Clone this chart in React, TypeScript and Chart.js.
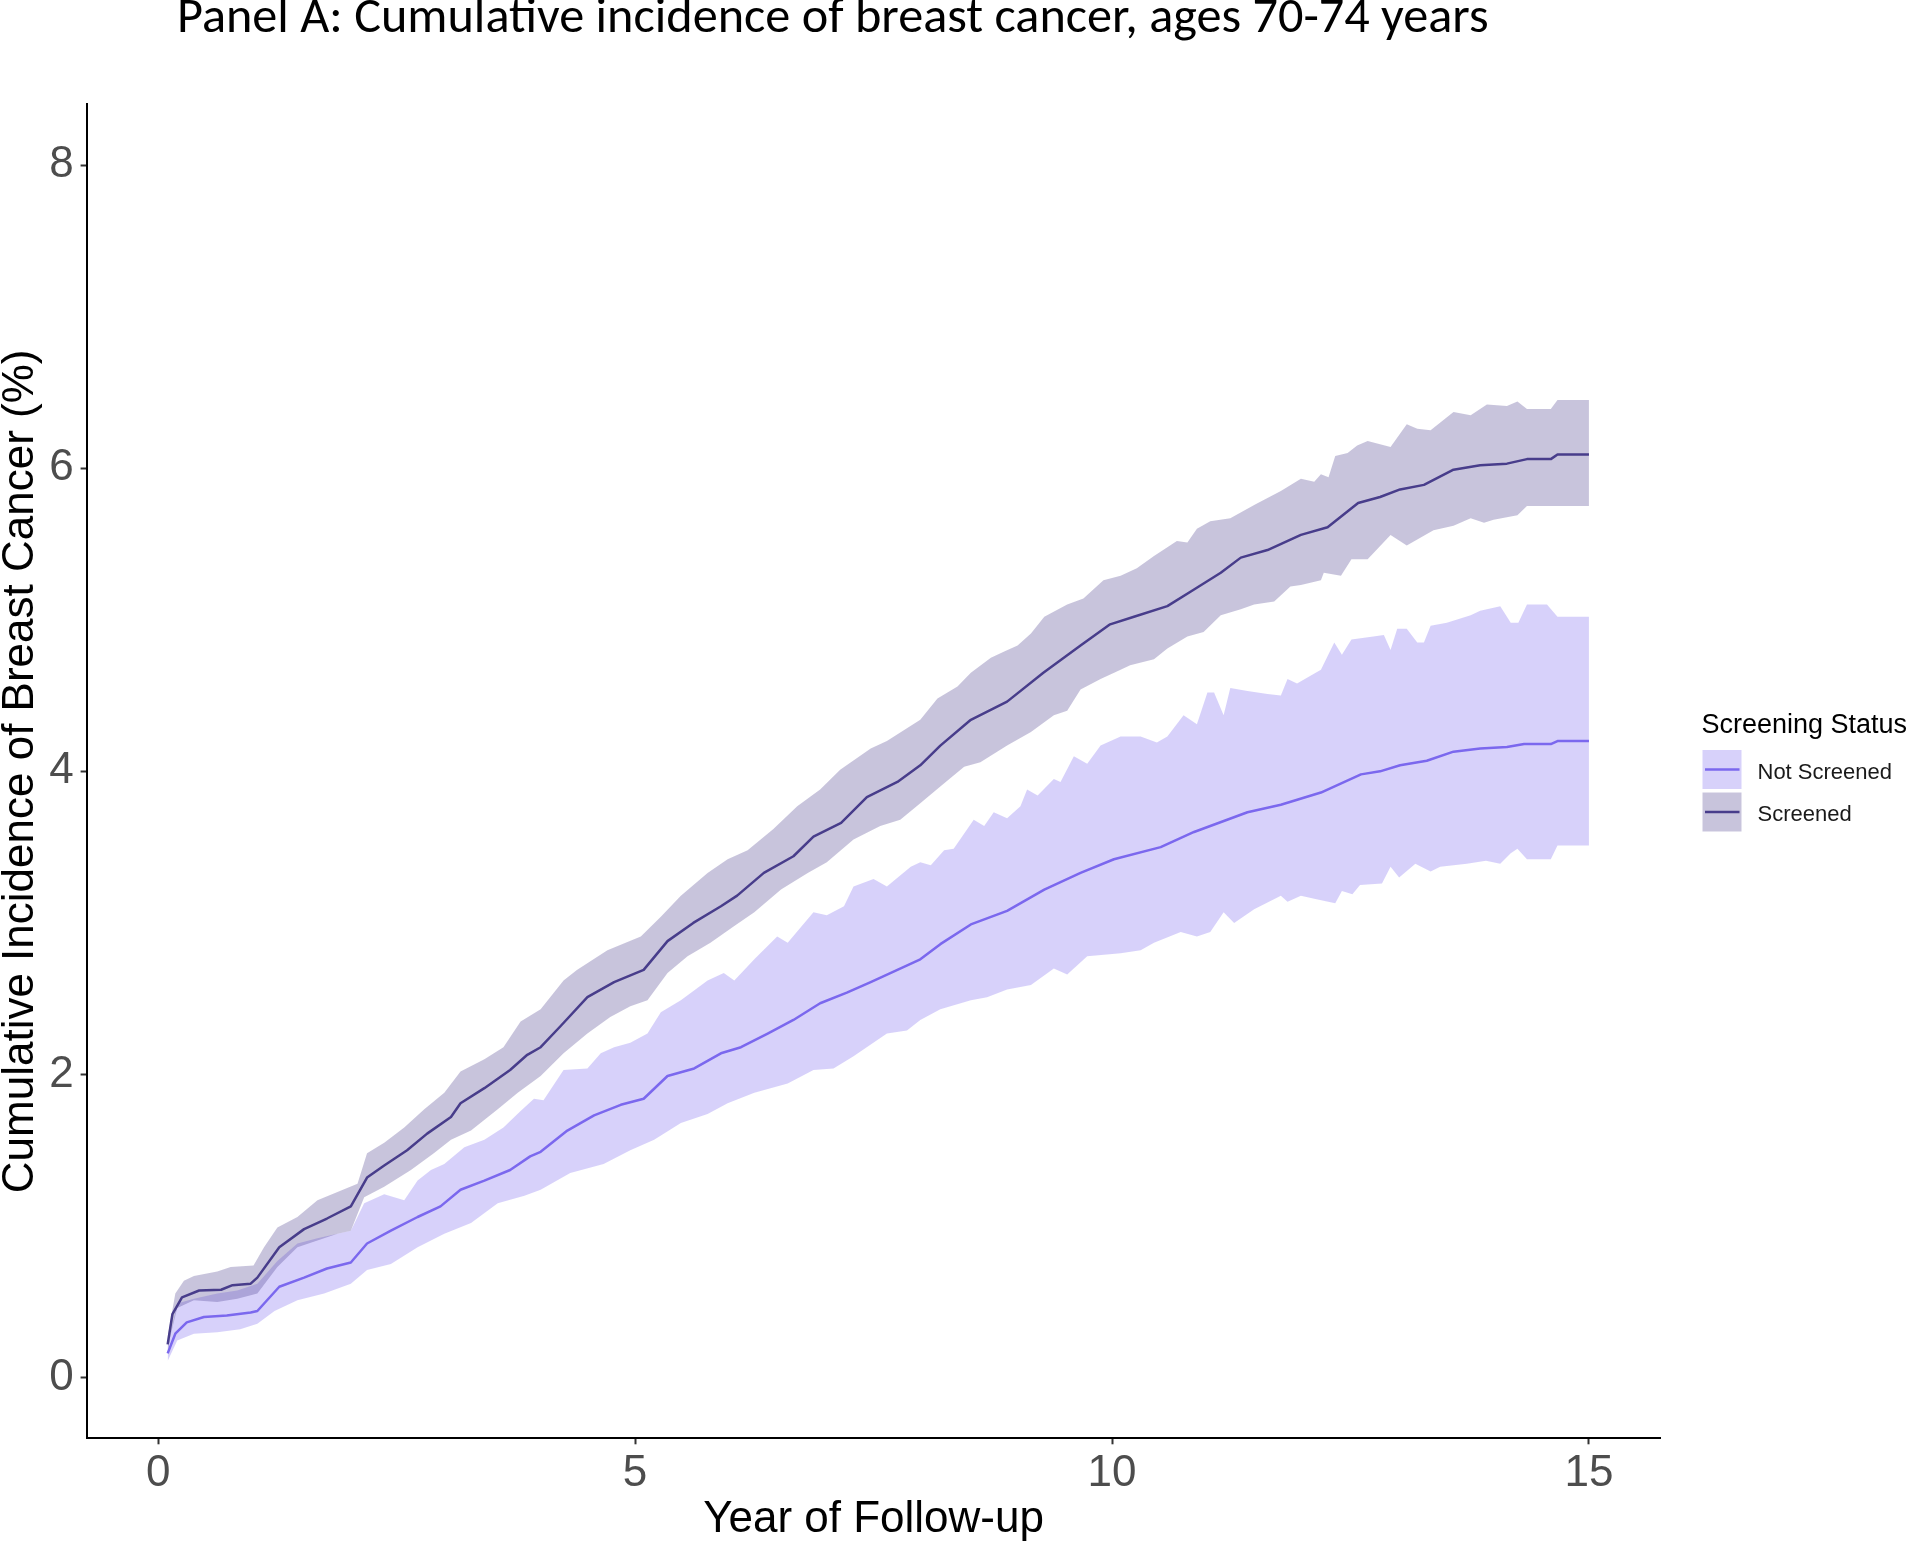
import React, { useEffect, useRef } from "react";
import { Chart, registerables } from "chart.js";

Chart.register(...registerables);

const chartTitle = "Panel A: Cumulative incidence of breast cancer, ages 70-74 years";
const xAxisTitle = "Year of Follow-up";
const yAxisTitle = "Cumulative Incidence of Breast Cancer (%)";
const legendTitle = "Screening Status";
const seriesNames = ["Not Screened", "Screened"];
const xTicks = [0, 5, 10, 15];
const yTicks = [0, 2, 4, 6, 8];

// [year, cumulative incidence %]
const screenedEstimate: [number, number][] = [
  [0.10,0.22],[0.15,0.42],[0.25,0.53],[0.43,0.575],[0.66,0.58],[0.78,0.61],[0.97,0.62],[1.04,0.66],[1.27,0.86],[1.53,0.98],
  [1.77,1.05],[2.02,1.13],[2.19,1.32],[2.37,1.40],[2.61,1.50],[2.82,1.61],[3.07,1.72],[3.17,1.81],[3.42,1.91],[3.69,2.03],
  [3.87,2.13],[4.01,2.18],[4.22,2.32],[4.50,2.51],[4.78,2.61],[5.09,2.69],[5.34,2.88],[5.61,3.00],[5.90,3.11],[6.07,3.18],
  [6.35,3.33],[6.66,3.44],[6.87,3.57],[7.16,3.66],[7.43,3.83],[7.75,3.93],[7.99,4.04],[8.20,4.17],[8.52,4.34],[8.90,4.46],
  [9.28,4.65],[9.67,4.83],[9.98,4.97],[10.23,5.02],[10.58,5.09],[10.86,5.20],[11.14,5.31],[11.35,5.41],[11.63,5.46],[11.98,5.56],
  [12.26,5.61],[12.58,5.77],[12.81,5.81],[13.02,5.86],[13.27,5.89],[13.58,5.99],[13.86,6.02],[14.14,6.03],[14.35,6.06],[14.60,6.06],
  [14.67,6.09],[15.00,6.09],
];

const screenedUpper: [number, number][] = [
  [0.10,0.27],[0.18,0.555],[0.27,0.64],[0.375,0.67],[0.62,0.70],[0.76,0.73],[1.00,0.74],[1.11,0.86],[1.25,0.99],[1.46,1.06],
  [1.67,1.17],[1.88,1.225],[2.09,1.28],[2.19,1.48],[2.37,1.55],[2.58,1.65],[2.79,1.77],[3.00,1.88],[3.17,2.02],[3.42,2.10],
  [3.62,2.18],[3.80,2.35],[4.01,2.43],[4.25,2.62],[4.39,2.69],[4.71,2.82],[5.06,2.91],[5.27,3.04],[5.48,3.18],[5.76,3.33],
  [5.97,3.42],[6.18,3.48],[6.45,3.62],[6.70,3.77],[6.94,3.88],[7.15,4.01],[7.47,4.15],[7.64,4.20],[7.99,4.34],[8.17,4.48],
  [8.38,4.56],[8.52,4.65],[8.73,4.75],[8.87,4.79],[9.01,4.83],[9.15,4.91],[9.29,5.02],[9.53,5.10],[9.70,5.14],[9.91,5.26],
  [10.09,5.29],[10.26,5.34],[10.44,5.42],[10.68,5.52],[10.79,5.51],[10.89,5.60],[11.03,5.65],[11.24,5.67],[11.50,5.76],[11.77,5.85],
  [11.98,5.93],[12.12,5.91],[12.19,5.96],[12.27,5.94],[12.34,6.08],[12.47,6.10],[12.57,6.15],[12.68,6.18],[12.92,6.14],[13.09,6.29],
  [13.20,6.26],[13.34,6.25],[13.58,6.37],[13.76,6.35],[13.93,6.42],[14.14,6.41],[14.25,6.44],[14.35,6.39],[14.60,6.39],[14.67,6.45],
  [15.00,6.45],
];

const screenedLower: [number, number][] = [
  [0.10,0.17],[0.13,0.28],[0.20,0.46],[0.375,0.51],[0.62,0.50],[0.83,0.52],[1.04,0.555],[1.25,0.73],[1.46,0.86],[1.67,0.905],
  [1.88,0.95],[2.02,0.97],[2.16,1.19],[2.37,1.26],[2.65,1.37],[2.89,1.48],[3.07,1.57],[3.28,1.63],[3.56,1.77],[3.77,1.88],
  [4.01,1.99],[4.25,2.14],[4.50,2.27],[4.74,2.38],[4.95,2.45],[5.13,2.49],[5.34,2.67],[5.55,2.78],[5.79,2.87],[6.04,2.98],
  [6.25,3.07],[6.53,3.22],[6.81,3.33],[7.01,3.40],[7.29,3.55],[7.57,3.64],[7.78,3.68],[7.99,3.79],[8.20,3.90],[8.45,4.03],
  [8.62,4.06],[8.90,4.17],[9.15,4.26],[9.39,4.37],[9.53,4.40],[9.67,4.54],[9.88,4.61],[10.09,4.67],[10.19,4.70],[10.44,4.74],
  [10.58,4.81],[10.79,4.89],[10.96,4.92],[11.14,5.03],[11.35,5.07],[11.49,5.10],[11.70,5.12],[11.87,5.22],[11.98,5.23],[12.19,5.26],
  [12.22,5.31],[12.40,5.29],[12.51,5.40],[12.68,5.40],[12.92,5.56],[13.09,5.49],[13.20,5.53],[13.37,5.59],[13.58,5.62],[13.76,5.67],
  [13.90,5.64],[14.00,5.66],[14.25,5.69],[14.35,5.75],[15.00,5.75],
];

const notScreenedEstimate: [number, number][] = [
  [0.10,0.16],[0.18,0.29],[0.30,0.365],[0.48,0.40],[0.72,0.41],[0.97,0.43],[1.04,0.44],[1.27,0.60],[1.53,0.66],[1.77,0.72],
  [2.02,0.76],[2.19,0.885],[2.44,0.97],[2.72,1.06],[2.96,1.13],[3.17,1.24],[3.42,1.30],[3.69,1.37],[3.90,1.46],[4.01,1.49],
  [4.29,1.63],[4.57,1.73],[4.85,1.80],[5.09,1.84],[5.34,1.99],[5.62,2.04],[5.90,2.14],[6.11,2.18],[6.39,2.27],[6.66,2.36],
  [6.94,2.47],[7.22,2.54],[7.47,2.61],[7.75,2.69],[7.99,2.76],[8.20,2.86],[8.52,2.99],[8.90,3.08],[9.29,3.22],[9.67,3.33],
  [10.02,3.42],[10.51,3.50],[10.86,3.60],[11.42,3.73],[11.77,3.78],[12.19,3.86],[12.61,3.98],[12.81,4.00],[13.02,4.04],[13.30,4.07],
  [13.58,4.13],[13.86,4.15],[14.14,4.16],[14.32,4.18],[14.60,4.18],[14.67,4.20],[15.00,4.20],
];

const notScreenedUpper: [number, number][] = [
  [0.10,0.20],[0.20,0.49],[0.375,0.52],[0.62,0.555],[0.83,0.575],[1.04,0.62],[1.25,0.77],[1.46,0.885],[1.67,0.92],[1.88,0.95],
  [2.02,0.97],[2.16,1.15],[2.37,1.21],[2.58,1.17],[2.72,1.30],[2.86,1.37],[3.00,1.41],[3.21,1.52],[3.42,1.57],[3.62,1.65],
  [3.80,1.76],[3.94,1.84],[4.04,1.83],[4.25,2.03],[4.50,2.04],[4.64,2.14],[4.78,2.18],[4.95,2.21],[5.13,2.27],[5.27,2.41],
  [5.48,2.49],[5.76,2.62],[5.93,2.67],[6.04,2.62],[6.25,2.76],[6.49,2.91],[6.60,2.87],[6.87,3.07],[7.01,3.05],[7.19,3.11],
  [7.29,3.24],[7.50,3.29],[7.64,3.24],[7.89,3.37],[7.99,3.40],[8.10,3.38],[8.24,3.48],[8.34,3.49],[8.55,3.68],[8.66,3.64],
  [8.76,3.73],[8.90,3.69],[9.04,3.77],[9.11,3.88],[9.22,3.84],[9.39,3.95],[9.46,3.93],[9.60,4.10],[9.74,4.05],[9.88,4.17],
  [10.09,4.23],[10.30,4.23],[10.47,4.19],[10.58,4.23],[10.75,4.37],[10.89,4.31],[11.00,4.52],[11.07,4.52],[11.17,4.37],[11.24,4.55],
  [11.42,4.53],[11.63,4.51],[11.77,4.50],[11.84,4.61],[11.94,4.58],[12.19,4.67],[12.33,4.85],[12.41,4.77],[12.51,4.87],[12.74,4.89],
  [12.85,4.90],[12.92,4.80],[12.99,4.94],[13.09,4.94],[13.20,4.85],[13.27,4.85],[13.34,4.96],[13.51,4.98],[13.76,5.03],[13.86,5.06],
  [14.07,5.09],[14.18,4.98],[14.26,4.98],[14.35,5.10],[14.56,5.10],[14.67,5.02],[15.00,5.02],
];

const notScreenedLower: [number, number][] = [
  [0.10,0.11],[0.20,0.245],[0.375,0.29],[0.62,0.30],[0.86,0.32],[1.04,0.355],[1.22,0.44],[1.46,0.51],[1.74,0.555],[2.02,0.62],
  [2.19,0.71],[2.44,0.75],[2.72,0.86],[3.00,0.95],[3.28,1.02],[3.56,1.15],[3.84,1.20],[4.01,1.24],[4.32,1.35],[4.67,1.41],
  [4.95,1.50],[5.20,1.57],[5.48,1.68],[5.76,1.74],[5.97,1.81],[6.25,1.88],[6.60,1.94],[6.87,2.03],[7.08,2.04],[7.29,2.12],
  [7.64,2.27],[7.85,2.29],[7.99,2.36],[8.20,2.43],[8.52,2.49],[8.69,2.51],[8.90,2.56],[9.15,2.59],[9.39,2.70],[9.53,2.66],
  [9.74,2.78],[10.09,2.80],[10.30,2.82],[10.44,2.87],[10.72,2.94],[10.89,2.91],[11.03,2.94],[11.17,3.07],[11.28,3.00],[11.49,3.09],
  [11.77,3.18],[11.84,3.14],[11.98,3.18],[12.12,3.16],[12.34,3.13],[12.41,3.21],[12.52,3.19],[12.60,3.25],[12.83,3.26],[12.92,3.37],
  [13.01,3.30],[13.18,3.39],[13.34,3.34],[13.44,3.37],[13.72,3.39],[13.92,3.41],[14.07,3.39],[14.18,3.46],[14.25,3.49],[14.35,3.42],
  [14.60,3.42],[14.67,3.51],[15.00,3.51],
];

const NS_LINE = "#7B68EE";
const S_LINE = "#483D8B";
const NS_FILL = "rgba(123,104,238,0.3)";
const S_FILL = "rgba(72,61,139,0.3)";
const ARIAL = '"Liberation Sans", Arial, Helvetica, sans-serif';

const W = 1911;
const H = 1541;

const toPts = (arr: [number, number][]) => arr.map(([x, y]) => ({ x, y }));

const overlayPlugin = {
  id: "overlayText",
  afterDraw(chart: any) {
    const ctx: CanvasRenderingContext2D = chart.ctx;
    const a = chart.chartArea;
    ctx.save();

    // Main title
    const titleFamily = 'Carlito, Lato, "Open Sans", sans-serif';
    ctx.font = `100px ${titleFamily}`;
    const w100 = ctx.measureText(chartTitle).width;
    const tfs = (100 * 1312) / w100;
    ctx.font = `${tfs}px ${titleFamily}`;
    ctx.fillStyle = "#000";
    ctx.textAlign = "left";
    ctx.textBaseline = "alphabetic";
    ctx.fillText(chartTitle, 177, 32);

    // X axis title
    ctx.font = `44px ${ARIAL}`;
    ctx.textAlign = "center";
    ctx.fillText(xAxisTitle, (a.left + a.right) / 2, 1531.5);

    // Y axis title
    ctx.save();
    ctx.translate(33, (a.top + a.bottom) / 2);
    ctx.rotate(-Math.PI / 2);
    ctx.textAlign = "center";
    ctx.fillText(yAxisTitle, 0, 0);
    ctx.restore();

    // Legend
    ctx.textAlign = "left";
    ctx.font = `27px ${ARIAL}`;
    ctx.fillStyle = "#000";
    ctx.fillText(legendTitle, 1701.5, 733);
    const keys = [
      { name: seriesNames[0], fill: NS_FILL, line: NS_LINE, y: 750 },
      { name: seriesNames[1], fill: S_FILL, line: S_LINE, y: 792.5 },
    ];
    ctx.font = `22px ${ARIAL}`;
    keys.forEach((k) => {
      ctx.fillStyle = k.fill;
      ctx.fillRect(1702.5, k.y, 39, 39);
      ctx.strokeStyle = k.line;
      ctx.lineWidth = 2.5;
      ctx.beginPath();
      ctx.moveTo(1705, k.y + 19.5);
      ctx.lineTo(1739.5, k.y + 19.5);
      ctx.stroke();
      ctx.fillStyle = "#1a1a1a";
      ctx.fillText(k.name, 1757.5, k.y + 28.5);
    });
    ctx.restore();
  },
};

export default function App() {
  const ref = useRef<HTMLCanvasElement>(null);

  useEffect(() => {
    if (!ref.current) return;
    const tickFont = { family: ARIAL, size: 44 };
    const chart = new Chart(ref.current, {
      type: "line",
      data: {
        datasets: [
          { label: "NS lower", data: toPts(notScreenedLower), borderWidth: 0, pointRadius: 0, fill: false, order: 3, borderColor: "transparent" },
          { label: "NS upper", data: toPts(notScreenedUpper), borderWidth: 0, pointRadius: 0, fill: "-1", backgroundColor: NS_FILL, order: 3, borderColor: "transparent" },
          { label: "S lower", data: toPts(screenedLower), borderWidth: 0, pointRadius: 0, fill: false, order: 2, borderColor: "transparent" },
          { label: "S upper", data: toPts(screenedUpper), borderWidth: 0, pointRadius: 0, fill: "-1", backgroundColor: S_FILL, order: 2, borderColor: "transparent" },
          { label: seriesNames[0], data: toPts(notScreenedEstimate), borderColor: NS_LINE, borderWidth: 2.5, pointRadius: 0, fill: false, order: 1 },
          { label: seriesNames[1], data: toPts(screenedEstimate), borderColor: S_LINE, borderWidth: 2.5, pointRadius: 0, fill: false, order: 0 },
        ],
      } as any,
      options: {
        responsive: false,
        animation: false,
        devicePixelRatio: 1,
        layout: { padding: { left: 0, top: 104.4, right: W - 1660.5, bottom: 0 } },
        elements: { line: { tension: 0, borderJoinStyle: "round", borderCapStyle: "butt" }, point: { radius: 0 } },
        plugins: { legend: { display: false }, tooltip: { enabled: false }, title: { display: false } },
        scales: {
          x: {
            type: "linear",
            min: -0.75,
            max: 15.75,
            afterBuildTicks: (s: any) => { s.ticks = xTicks.map((v) => ({ value: v })); },
            afterFit: (s: any) => { s.height = H - 1438.3; },
            grid: { display: true, drawOnChartArea: false, drawTicks: true, tickLength: 6, tickWidth: 2, tickColor: "#333333" },
            border: { display: true, color: "#000", width: 2 },
            ticks: { font: tickFont, color: "#4D4D4D", padding: 3, maxRotation: 0, autoSkip: false },
          },
          y: {
            type: "linear",
            min: -0.4,
            max: 8.4,
            afterBuildTicks: (s: any) => { s.ticks = yTicks.map((v) => ({ value: v })); },
            afterFit: (s: any) => { s.width = 86.6; },
            grid: { display: true, drawOnChartArea: false, drawTicks: true, tickLength: 6, tickWidth: 2, tickColor: "#333333" },
            border: { display: true, color: "#000", width: 2 },
            ticks: { font: tickFont, color: "#4D4D4D", padding: 7, autoSkip: false },
          },
        },
      } as any,
      plugins: [overlayPlugin],
    });
    return () => chart.destroy();
  }, []);

  return (
    <div style={{ position: "absolute", left: 0, top: 0, width: W, height: H }}>
      <canvas ref={ref} width={W} height={H} style={{ display: "block" }} />
    </div>
  );
}
